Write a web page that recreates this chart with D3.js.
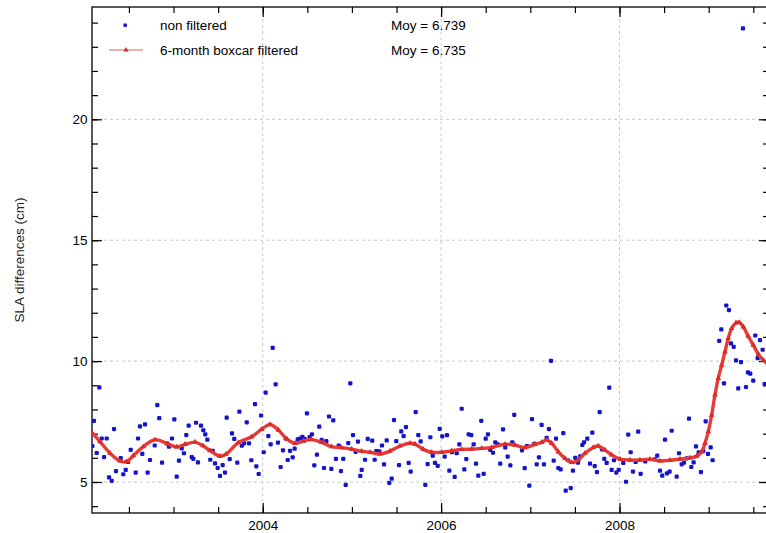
<!DOCTYPE html>
<html>
<head>
<meta charset="utf-8">
<script src="https://cdn.jsdelivr.net/npm/d3@7"></script>
<style>
  body { margin: 0; background: #ffffff; }
  svg { display: block; font-family: "Liberation Sans", Arial, Helvetica, sans-serif; }
</style>
</head>
<body>
<div id="chart-container"></div>
<script>
// --- data (decimal year, SLA difference in cm) ---
const rawYears = [
  2002.090, 2002.108, 2002.139, 2002.168, 2002.195, 2002.221, 2002.251, 2002.277, 2002.307, 2002.333,
  2002.355, 2002.408, 2002.437, 2002.464, 2002.490, 2002.520, 2002.576, 2002.602, 2002.624, 2002.650,
  2002.680, 2002.710, 2002.736, 2002.789, 2002.818, 2002.840, 2002.871, 2002.923, 2002.949, 2002.983,
  2003.009, 2003.036, 2003.061, 2003.092, 2003.117, 2003.143, 2003.170, 2003.204, 2003.222, 2003.252,
  2003.274, 2003.308, 2003.334, 2003.356, 2003.379, 2003.412, 2003.439, 2003.465, 2003.495, 2003.521,
  2003.551, 2003.577, 2003.596, 2003.630, 2003.656, 2003.681, 2003.715, 2003.738, 2003.765, 2003.790,
  2003.821, 2003.846, 2003.872, 2003.913, 2003.928, 2003.955, 2003.981, 2004.011, 2004.033, 2004.063,
  2004.089, 2004.112, 2004.145, 2004.171, 2004.201, 2004.227, 2004.257, 2004.280, 2004.306, 2004.336,
  2004.358, 2004.392, 2004.418, 2004.444, 2004.470, 2004.496, 2004.526, 2004.552, 2004.578, 2004.608,
  2004.634, 2004.661, 2004.687, 2004.713, 2004.743, 2004.769, 2004.791, 2004.821, 2004.852, 2004.877,
  2004.903, 2004.930, 2004.959, 2004.982, 2005.012, 2005.042, 2005.068, 2005.094, 2005.110, 2005.147,
  2005.177, 2005.228, 2005.255, 2005.273, 2005.307, 2005.337, 2005.360, 2005.390, 2005.419, 2005.446,
  2005.472, 2005.497, 2005.528, 2005.553, 2005.580, 2005.606, 2005.636, 2005.659, 2005.715, 2005.744,
  2005.771, 2005.823, 2005.849, 2005.879, 2005.906, 2005.931, 2005.962, 2005.984, 2006.013, 2006.040,
  2006.066, 2006.092, 2006.122, 2006.152, 2006.175, 2006.204, 2006.231, 2006.260, 2006.282, 2006.309,
  2006.338, 2006.365, 2006.391, 2006.417, 2006.450, 2006.477, 2006.500, 2006.525, 2006.551, 2006.582,
  2006.607, 2006.634, 2006.663, 2006.694, 2006.719, 2006.746, 2006.776, 2006.798, 2006.820, 2006.907,
  2006.937, 2006.963, 2006.989, 2007.019, 2007.045, 2007.072, 2007.097, 2007.127, 2007.153, 2007.183,
  2007.209, 2007.232, 2007.262, 2007.288, 2007.314, 2007.340, 2007.370, 2007.397, 2007.422, 2007.453,
  2007.478, 2007.504, 2007.534, 2007.560, 2007.583, 2007.602, 2007.639, 2007.669, 2007.695, 2007.722,
  2007.747, 2007.778, 2007.803, 2007.829, 2007.856, 2007.885, 2007.912, 2007.938, 2007.964, 2007.991,
  2008.042, 2008.073, 2008.098, 2008.125, 2008.151, 2008.181, 2008.210, 2008.237, 2008.289, 2008.394,
  2008.423, 2008.454, 2008.479, 2008.510, 2008.532, 2008.562, 2008.585, 2008.641, 2008.667, 2008.697,
  2008.723, 2008.753, 2008.779, 2008.805, 2008.831, 2008.857, 2008.888, 2008.913, 2008.939, 2008.966,
  2008.992, 2009.022, 2009.044, 2009.118, 2009.141, 2009.171, 2009.197, 2009.227, 2009.250, 2009.280,
  2009.306, 2009.331, 2009.362, 2009.384, 2009.418, 2009.440, 2009.466, 2009.499, 2009.522, 2009.549,
  2009.575, 2009.605, 2009.627
];
const rawSla = [
  6.49, 7.53, 6.20, 8.91, 6.80, 6.03, 6.80, 5.19, 5.05, 7.19,
  5.45, 5.99, 5.32, 5.50, 5.83, 6.33, 5.39, 6.80, 7.30, 6.16,
  7.38, 5.39, 5.91, 6.51, 8.18, 7.64, 5.80, 6.60, 6.46, 6.80,
  7.59, 5.22, 5.88, 6.39, 6.19, 6.94, 7.33, 6.03, 5.96, 7.45,
  5.81, 7.33, 7.14, 6.97, 6.75, 5.92, 6.29, 5.77, 5.58, 5.25,
  5.70, 5.39, 7.66, 5.95, 7.01, 6.78, 5.80, 7.91, 6.50, 6.60,
  7.47, 6.60, 5.90, 8.22, 5.65, 5.33, 7.75, 6.23, 8.70, 6.90,
  6.56, 10.55, 9.04, 6.63, 5.62, 6.31, 6.80, 5.91, 6.29, 6.02,
  6.38, 6.76, 6.80, 6.87, 6.78, 7.84, 6.86, 6.97, 5.69, 6.13,
  7.29, 6.74, 5.58, 6.69, 7.71, 5.54, 7.55, 5.96, 6.51, 5.45,
  5.96, 4.88, 6.61, 9.08, 6.94, 6.25, 6.67, 5.25, 5.50, 5.92,
  6.78, 6.71, 5.92, 6.28, 6.27, 6.51, 5.73, 6.72, 4.96, 5.14,
  7.56, 6.69, 5.70, 7.09, 6.90, 7.27, 5.79, 5.43, 7.89, 6.94,
  6.68, 4.88, 5.74, 6.85, 6.09, 5.79, 5.67, 7.20, 6.89, 6.05,
  6.94, 5.47, 6.23, 5.21, 6.19, 6.56, 8.03, 5.52, 5.95, 6.97,
  6.94, 6.56, 5.76, 5.26, 7.53, 5.34, 6.79, 6.97, 6.33, 6.21,
  6.64, 6.56, 5.76, 7.18, 6.43, 6.05, 5.69, 6.64, 7.78, 6.31,
  5.57, 6.49, 4.85, 7.60, 6.58, 5.73, 6.02, 7.36, 5.73, 6.83,
  7.19, 10.01, 5.88, 6.79, 5.58, 5.52, 7.02, 4.64, 5.90, 4.75,
  5.47, 6.00, 5.80, 6.06, 6.53, 6.64, 6.79, 5.76, 7.04, 5.66,
  5.41, 7.89, 6.35, 5.96, 5.79, 8.90, 5.50, 5.90, 5.39, 5.50,
  5.79, 5.01, 6.96, 6.23, 5.43, 5.83, 7.08, 5.34, 5.85, 5.94,
  6.09, 5.47, 5.26, 6.75, 5.36, 5.43, 7.12, 5.22, 6.19, 5.73,
  5.80, 5.98, 7.62, 5.62, 5.81, 6.47, 6.23, 5.41, 6.29, 7.51,
  6.16, 6.43, 5.90, 10.84, 11.31, 9.08, 12.30, 12.11, 10.73, 10.59,
  10.03, 8.87, 9.96, 23.76, 8.93, 9.53, 9.48, 9.19, 11.06, 10.12,
  10.87, 10.47, 9.05
];

const filtYears = [
  2002.086, 2002.176, 2002.288, 2002.400, 2002.475, 2002.549, 2002.661, 2002.792, 2002.941, 2003.036,
  2003.129, 2003.241, 2003.330, 2003.409, 2003.521, 2003.588, 2003.726, 2003.876, 2003.988, 2004.082,
  2004.175, 2004.269, 2004.362, 2004.455, 2004.541, 2004.661, 2004.773, 2004.885, 2004.997, 2005.110,
  2005.203, 2005.315, 2005.427, 2005.539, 2005.651, 2005.707, 2005.800, 2005.894, 2006.006, 2006.119,
  2006.231, 2006.343, 2006.455, 2006.567, 2006.716, 2006.828, 2006.940, 2007.052, 2007.128, 2007.184,
  2007.240, 2007.314, 2007.389, 2007.464, 2007.538, 2007.613, 2007.706, 2007.762, 2007.837, 2007.912,
  2008.005, 2008.117, 2008.229, 2008.342, 2008.454, 2008.566, 2008.678, 2008.790, 2008.865, 2008.921,
  2008.958, 2008.995, 2009.033, 2009.070, 2009.107, 2009.145, 2009.182, 2009.219, 2009.257, 2009.306,
  2009.343, 2009.388, 2009.443, 2009.500, 2009.556, 2009.612, 2009.664
];
const filtSla = [
  7.04, 6.67, 6.19, 5.87, 5.84, 6.09, 6.46, 6.75, 6.57, 6.45,
  6.56, 6.65, 6.50, 6.30, 6.07, 6.15, 6.63, 6.87, 7.18, 7.38,
  7.15, 6.78, 6.60, 6.69, 6.76, 6.64, 6.46, 6.42, 6.36, 6.27,
  6.23, 6.16, 6.28, 6.49, 6.60, 6.57, 6.35, 6.23, 6.23, 6.29,
  6.35, 6.36, 6.39, 6.43, 6.56, 6.53, 6.42, 6.56, 6.64, 6.74,
  6.60, 6.25, 5.98, 5.81, 5.91, 6.19, 6.43, 6.49, 6.32, 6.12,
  5.95, 5.91, 5.91, 5.94, 5.87, 5.90, 5.95, 6.00, 6.07, 6.25,
  6.60, 7.08, 7.77, 8.60, 9.29, 9.83, 10.38, 10.94, 11.35, 11.58,
  11.60, 11.42, 11.03, 10.66, 10.29, 10.04, 9.90
];

const legendLabels = ["non filtered", "6-month boxcar filtered"];
const legendMeans = ["Moy = 6.739", "Moy = 6.735"];
const xLabelYears = [2004, 2006, 2008];
const yLabelValues = [5, 10, 15, 20];
const yTitle = "SLA differences (cm)";

// --- layout ---
const width = 766, height = 533;
const margin = { top: 7, left: 92, right: -3, bottom: 20 };
const plotRight = width - margin.right;
const plotBottom = height - margin.bottom;
const fontSize = "13.5px";
const blue = "#1414cc";
const red = "#e63c36";

const svg = d3
  .select("#chart-container")
  .append("svg")
  .attr("width", width)
  .attr("height", height);

svg.append("rect").attr("width", width).attr("height", height).attr("fill", "#fff");

// Échelles
const xScale = d3.scaleLinear().domain([2002.086, 2009.676]).range([margin.left, plotRight]);
const yScale = d3.scaleLinear().domain([3.718, 24.645]).range([plotBottom, margin.top]);

const minorX = d3.range(2002.5, 2009.7, 0.5);
const minorY = d3.range(4, 25, 1);

svg.append("defs")
  .append("clipPath")
  .attr("id", "plot-clip")
  .append("rect")
  .attr("x", margin.left)
  .attr("y", margin.top)
  .attr("width", plotRight - margin.left)
  .attr("height", plotBottom - margin.top);

// grille pointillée
const grid = svg.append("g").attr("stroke", "#c8c8c8").attr("stroke-dasharray", "3,3").attr("stroke-width", 1);
grid.selectAll(".gx")
  .data(xLabelYears)
  .enter()
  .append("line")
  .attr("x1", (d) => xScale(d)).attr("x2", (d) => xScale(d))
  .attr("y1", margin.top).attr("y2", plotBottom);
grid.selectAll(".gy")
  .data(yLabelValues)
  .enter()
  .append("line")
  .attr("x1", margin.left).attr("x2", plotRight)
  .attr("y1", (d) => yScale(d)).attr("y2", (d) => yScale(d));

// axes (ticks toward the inside)
function addAxis(axis, tx, ty, values, size, labels, pad) {
  const g = svg.append("g")
    .attr("transform", `translate(${tx},${ty})`)
    .call(axis.tickValues(values).tickSizeInner(-size).tickSizeOuter(0).tickPadding(pad)
      .tickFormat(labels ? d3.format("d") : () => ""));
  g.select(".domain").remove();
  g.selectAll("line").attr("stroke", "#000").attr("stroke-width", 1.2);
  g.selectAll("text").attr("fill", "#000").style("font-size", fontSize);
  return g;
}
addAxis(d3.axisBottom(xScale), 0, plotBottom, minorX, 6, false, 0);
addAxis(d3.axisBottom(xScale), 0, plotBottom, xLabelYears, 10, true, 7);
addAxis(d3.axisTop(xScale), 0, margin.top, minorX, 6, false, 0);
addAxis(d3.axisTop(xScale), 0, margin.top, xLabelYears, 10, false, 0);
addAxis(d3.axisLeft(yScale), margin.left, 0, minorY, 6, false, 0);
addAxis(d3.axisLeft(yScale), margin.left, 0, yLabelValues, 10, true, 4.5);
addAxis(d3.axisRight(yScale), plotRight, 0, minorY, 6, false, 0);
addAxis(d3.axisRight(yScale), plotRight, 0, yLabelValues, 10, false, 0);

// cadre
svg.append("rect")
  .attr("x", margin.left).attr("y", margin.top)
  .attr("width", plotRight - margin.left).attr("height", plotBottom - margin.top)
  .attr("fill", "none").attr("stroke", "#000").attr("stroke-width", 1.3);

const plot = svg.append("g").attr("clip-path", "url(#plot-clip)");

// points non filtrés
plot.selectAll(".raw")
  .data(rawYears.map((t, i) => [t, rawSla[i]]))
  .enter()
  .append("rect")
  .attr("x", (d) => xScale(d[0]) - 2.1)
  .attr("y", (d) => yScale(d[1]) - 2.1)
  .attr("width", 4.2).attr("height", 4.2).attr("rx", 1.1)
  .attr("fill", blue);

// courbe filtrée
const filtData = filtYears.map((t, i) => [t, filtSla[i]]);
const lineGen = d3.line()
  .x((d) => xScale(d[0]))
  .y((d) => yScale(d[1]))
  .curve(d3.curveCatmullRom);

plot.append("path")
  .attr("d", lineGen(filtData))
  .attr("fill", "none")
  .attr("stroke", red)
  .attr("stroke-width", 3.4)
  .attr("stroke-linejoin", "round");

const tri = d3.symbol().type(d3.symbolTriangle).size(14);
plot.selectAll(".filt")
  .data(filtData)
  .enter()
  .append("path")
  .attr("d", tri)
  .attr("transform", (d) => `translate(${xScale(d[0])},${yScale(d[1])})`)
  .attr("fill", "#e02a2a");

// légende
const legend = svg.append("g").style("font-size", fontSize).attr("fill", "#000");
legend.append("rect").attr("x", 123.5).attr("y", 23.5).attr("width", 3.4).attr("height", 3.4).attr("fill", blue);
legend.append("line")
  .attr("x1", 109).attr("x2", 143).attr("y1", 50).attr("y2", 50)
  .attr("stroke", "#d86a6a").attr("stroke-width", 1.2);
legend.append("path").attr("d", d3.symbol().type(d3.symbolTriangle).size(12)).attr("transform", "translate(126,50)").attr("fill", "#d82a2a");
legendLabels.forEach((label, i) => {
  legend.append("text").attr("x", 160).attr("y", 30 + i * 24.5).text(label);
  legend.append("text").attr("x", 391).attr("y", 30 + i * 24.5).text(legendMeans[i]);
});

// titre axe Y
svg.append("text")
  .attr("transform", `translate(19,${(margin.top + plotBottom) / 2}) rotate(-90)`)
  .attr("text-anchor", "middle")
  .attr("dominant-baseline", "central")
  .style("font-size", fontSize)
  .attr("fill", "#222")
  .text(yTitle);
</script>
</body>
</html>
